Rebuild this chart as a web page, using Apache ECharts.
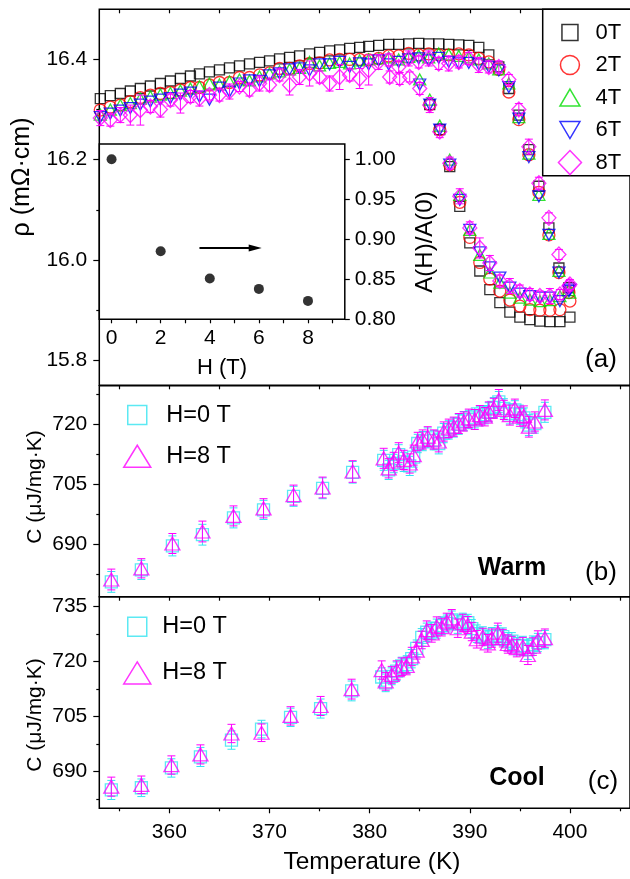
<!DOCTYPE html>
<html>
<head>
<meta charset="utf-8">
<script src="https://cdn.jsdelivr.net/npm/echarts@6.0.0/dist/echarts.min.js"></script>
<style>
html, body { margin: 0; padding: 0; background: #fff; }
#main { width: 630px; height: 879px; }
</style>
</head>
<body>
<div id="main"></div>
<script>
// ---- panel (a): resistivity, upper run and lower run for each field ----
var tUp = [353.1, 354.1, 355.1, 356.1, 357.1, 358.1, 359.1, 360.1, 361.1, 362.1,
           363.0, 364.0, 365.0, 366.0, 367.0, 368.0, 369.0, 370.0, 371.0, 372.0,
           373.0, 374.0, 375.0, 376.0, 377.0, 378.0, 379.0, 379.9, 380.9, 381.9,
           382.9, 383.9, 384.9, 385.9, 386.9, 387.9, 388.9, 389.9, 390.9, 391.9,
           392.9, 393.9, 394.9, 395.9, 396.9, 397.9, 398.9, 399.9];
var tDown = [382.0, 383.0, 384.0, 385.0, 386.0, 387.0, 388.0, 389.0, 390.0, 391.0,
             392.0, 393.0, 394.0, 395.0, 396.0, 397.0, 398.0, 399.0, 400.0];

var rho0Up = [16.322, 16.328, 16.332, 16.337, 16.342, 16.347, 16.352, 16.357, 16.362, 16.367,
              16.371, 16.375, 16.379, 16.383, 16.387, 16.391, 16.394, 16.397, 16.401, 16.404,
              16.407, 16.411, 16.414, 16.417, 16.419, 16.422, 16.424, 16.426, 16.428, 16.430,
              16.430, 16.431, 16.432, 16.431, 16.431, 16.430, 16.429, 16.428, 16.424, 16.409,
              16.385, 16.342, 16.289, 16.220, 16.147, 16.064, 15.984, 15.945];
var rho2Up = [16.299, 16.305, 16.309, 16.316, 16.324, 16.329, 16.332, 16.334, 16.339, 16.344,
              16.344, 16.349, 16.354, 16.354, 16.364, 16.364, 16.369, 16.373, 16.382, 16.382,
              16.387, 16.392, 16.393, 16.399, 16.400, 16.400, 16.400, 16.399, 16.402, 16.407,
              16.407, 16.412, 16.409, 16.411, 16.409, 16.409, 16.411, 16.409, 16.402, 16.395,
              16.380, 16.335, 16.280, 16.210, 16.135, 16.050, 15.975, 15.935];
var rho4Up = [16.290, 16.300, 16.309, 16.313, 16.322, 16.326, 16.330, 16.333, 16.338, 16.342,
              16.346, 16.352, 16.350, 16.356, 16.360, 16.358, 16.366, 16.372, 16.376, 16.380,
              16.383, 16.395, 16.388, 16.393, 16.395, 16.392, 16.398, 16.400, 16.402, 16.404,
              16.400, 16.405, 16.408, 16.404, 16.412, 16.410, 16.407, 16.404, 16.400, 16.392,
              16.380, 16.352, 16.285, 16.212, 16.130, 16.052, 15.978, 15.940];
var rho6Up = [16.285, 16.292, 16.298, 16.303, 16.310, 16.316, 16.320, 16.323, 16.330, 16.334,
              16.326, 16.320, 16.344, 16.336, 16.352, 16.358, 16.357, 16.368, 16.372, 16.380,
              16.382, 16.378, 16.390, 16.390, 16.395, 16.385, 16.392, 16.390, 16.398, 16.390,
              16.395, 16.400, 16.402, 16.398, 16.403, 16.395, 16.392, 16.393, 16.390, 16.385,
              16.378, 16.345, 16.282, 16.205, 16.127, 16.050, 15.975, 15.938];
var rho8Up = [16.283, 16.279, 16.289, 16.289, 16.299, 16.306, 16.300, 16.319, 16.313, 16.326,
              16.322, 16.329, 16.329, 16.336, 16.346, 16.339, 16.352, 16.349, 16.369, 16.349,
              16.365, 16.372, 16.365, 16.352, 16.365, 16.369, 16.362, 16.379, 16.395, 16.399,
              16.385, 16.402, 16.395, 16.402, 16.392, 16.392, 16.395, 16.402, 16.389, 16.385,
              16.385, 16.360, 16.300, 16.226, 16.153, 16.084, 16.011, 15.948];
var err8Up = [0.015, 0.012, 0.015, 0.020, 0.030, 0.012, 0.015, 0.012, 0.020, 0.012,
              0.015, 0.010, 0.012, 0.015, 0.010, 0.012, 0.015, 0.012, 0.012, 0.020,
              0.015, 0.025, 0.012, 0.015, 0.025, 0.012, 0.020, 0.030, 0.015, 0.012,
              0.012, 0.015, 0.012, 0.015, 0.012, 0.015, 0.012, 0.012, 0.015, 0.012,
              0.012, 0.010, 0.012, 0.015, 0.012, 0.010, 0.010, 0.010];

var rho0Down = [null, null, null, null, 16.310, 16.260, 16.186, 16.107, 16.034, 15.978,
                15.941, 15.915, 15.896, 15.886, 15.881, 15.878, 15.877, 15.877, 15.886];
var rho2Down = [null, null, null, null, 16.310, 16.260, 16.190, 16.115, 16.045, 15.995,
                15.962, 15.938, 15.920, 15.908, 15.901, 15.900, 15.900, 15.901, 15.918];
var rho4Down = [null, null, null, 16.360, 16.320, 16.268, 16.200, 16.130, 16.060, 16.010,
                15.975, 15.955, 15.935, 15.925, 15.921, 15.918, 15.920, 15.928, 15.935];
var rho6Down = [null, null, null, 16.350, 16.310, 16.260, 16.190, 16.120, 16.060, 16.015,
                15.985, 15.965, 15.945, 15.933, 15.928, 15.925, 15.925, 15.918, 15.941];
var rho8Down = [16.365, 16.362, 16.365, 16.342, 16.309, 16.256, 16.193, 16.127, 16.064, 16.024,
                15.994, 15.958, 15.948, 15.938, 15.931, 15.928, 15.928, 15.931, 15.951];
var err8Down = [0.012, 0.012, 0.010, 0.012, 0.015, 0.012, 0.012, 0.015, 0.012, 0.020,
                0.015, 0.012, 0.015, 0.012, 0.012, 0.010, 0.015, 0.010, 0.010];

// inset: A(H)/A(0) against H
var fieldH = [0, 2, 4, 6, 8];
var ratioA = [1.000, 0.885, 0.851, 0.838, 0.823];
var arrowFrom = [3.58, 0.889];
var arrowTo = [5.85, 0.889];

// ---- panel (b): heat capacity, warming ----
var tWarm = [354.2, 357.2, 360.3, 363.3, 366.4, 369.4, 372.4, 375.3, 378.3, 381.4,
             381.9, 382.4, 382.9, 383.4, 384.0, 384.4, 384.8, 385.3, 385.8, 386.4,
             386.9, 387.4, 387.9, 388.4, 388.9, 389.4, 389.9, 390.5, 391.0, 391.5,
             391.9, 392.4, 392.9, 393.4, 394.0, 394.5, 395.0, 395.4, 395.9, 396.5, 397.5];
var cWarm0 = [680.6, 683.6, 689.6, 692.4, 696.6, 698.6, 702.0, 704.0, 708.0, 711.0,
              708.6, 710.2, 712.4, 710.6, 709.6, 711.8, 715.2, 715.8, 716.6, 716.0,
              715.2, 717.8, 718.6, 719.2, 720.0, 720.8, 721.2, 721.6, 722.0, 722.4,
              723.0, 724.2, 725.6, 724.0, 722.6, 723.6, 722.4, 721.6, 719.8, 720.2, 723.0];
var cWarm8 = [681.2, 684.0, 690.2, 693.2, 697.1, 699.0, 702.3, 704.2, 708.2, 711.5,
              709.0, 710.7, 712.9, 711.1, 710.2, 712.3, 715.7, 716.2, 716.9, 716.2,
              715.7, 718.2, 719.0, 719.4, 720.2, 720.7, 721.5, 721.2, 722.3, 721.9,
              723.2, 724.0, 726.1, 723.6, 722.3, 724.0, 721.9, 722.1, 719.4, 720.7, 723.6];
var errWarm = [2.6, 2.4, 2.5, 2.6, 2.5, 2.4, 2.5, 2.6, 2.7, 2.5,
               2.4, 2.3, 2.5, 2.4, 2.4, 2.5, 2.3, 2.4, 2.5, 2.4,
               2.6, 2.4, 2.3, 2.4, 2.5, 2.4, 2.3, 2.5, 2.4, 2.3,
               2.4, 2.5, 2.6, 2.4, 2.5, 2.3, 2.4, 2.5, 2.6, 2.4, 2.5];

// ---- panel (c): heat capacity, cooling ----
var tCool = [354.2, 357.2, 360.2, 363.1, 366.2, 369.2, 372.1, 375.1, 378.2, 381.2,
             381.6, 382.2, 382.7, 383.2, 383.7, 384.2, 384.7, 385.2, 385.7, 386.2,
             386.7, 387.2, 387.7, 388.2, 388.8, 389.3, 389.8, 390.2, 390.7, 391.3,
             391.8, 392.2, 392.8, 393.3, 393.8, 394.2, 394.7, 395.3, 395.8, 396.3,
             396.8, 397.5];
var cCool0 = [685.0, 685.6, 691.0, 694.0, 698.6, 701.6, 704.8, 707.2, 712.0, 715.8,
              714.2, 716.0, 717.4, 718.8, 719.2, 720.8, 723.6, 726.6, 728.0, 728.4,
              729.0, 729.8, 730.4, 731.4, 730.2, 730.8, 730.6, 729.0, 727.6, 727.2,
              726.0, 726.8, 727.2, 726.8, 725.4, 725.6, 724.2, 724.4, 723.2, 724.6,
              725.2, 726.0];
var cCool8 = [685.9, 686.4, 691.8, 694.7, 700.4, 700.6, 705.2, 707.9, 712.5, 717.7,
              714.6, 716.4, 717.7, 718.6, 718.8, 721.4, 723.0, 725.9, 728.6, 727.7,
              729.6, 729.4, 730.9, 731.8, 729.1, 730.5, 730.0, 728.2, 726.1, 726.8,
              725.0, 726.4, 727.9, 726.4, 724.8, 724.6, 723.7, 724.1, 721.8, 724.1,
              725.9, 726.4];
var errCool = [2.6, 2.4, 2.5, 2.6, 2.5, 2.4, 2.5, 2.6, 2.7, 2.5,
               2.4, 2.3, 2.5, 2.4, 2.4, 2.5, 2.3, 2.4, 2.5, 2.4,
               2.6, 2.4, 2.3, 2.4, 2.5, 2.4, 2.3, 2.5, 2.4, 2.3,
               2.4, 2.5, 2.6, 2.4, 2.5, 2.3, 2.4, 2.5, 2.6, 2.4,
               2.5, 2.5];

var fontFam = "'Liberation Sans', Arial, sans-serif";
var cBlack = '#000000', cRed = '#ff0000', cGreen = '#00dd00', cBlue = '#0000ff',
    cMag = '#ff00ff', cCyan = '#33e3f0';

// symbols
var downTri = 'path://M0,0L10,0L5,8.66Z';
// legend icons (corner moveTo's keep the box so the shapes keep their own size)
var icSq = 'path://M0,0M25,25M4.5,4.5H20.5V20.5H4.5Z';
var icCi = 'path://M0,0M25,25M3,12.5A9.5,9.5,0,1,1,22,12.5A9.5,9.5,0,1,1,3,12.5Z';
var icTr = 'path://M0,0M25,25M12.5,4L22.5,21L2.5,21Z';
var icDt = 'path://M0,0M25,25M2.5,4H22.5L12.5,21Z';
var icDi = 'path://M0,0M25,25M12.5,0.5L24,12.5L12.5,24.5L1,12.5Z';
var icSqB = 'path://M0,0M28,28M4.5,4.5H23.5V23.5H4.5Z';
var icTrB = 'path://M0,0M28,28M14,3L27.5,25L0.5,25Z';

function pts(xs, ys) {
    var out = [];
    for (var i = 0; i < xs.length; i++) {
        if (ys[i] != null) out.push([xs[i], ys[i]]);
    }
    return out;
}

function bars(xs, ys, es) {
    var out = [];
    for (var i = 0; i < xs.length; i++) {
        if (ys[i] != null) out.push([xs[i], ys[i] - es[i], ys[i] + es[i]]);
    }
    return out;
}

function scat(name, data, xi, yi, symbol, size, color, z) {
    return {
        type: 'scatter', name: name, xAxisIndex: xi, yAxisIndex: yi,
        data: data, symbol: symbol, symbolSize: size, silent: true, z: z,
        itemStyle: { color: 'rgba(0,0,0,0)', borderColor: color, borderWidth: 1.3 }
    };
}

function errSeries(data, xi, yi, color, z) {
    return {
        type: 'custom', xAxisIndex: xi, yAxisIndex: yi, data: data, silent: true, z: z,
        encode: { x: 0, y: [1, 2] },
        renderItem: function (params, api) {
            var top = api.coord([api.value(0), api.value(2)]);
            var bot = api.coord([api.value(0), api.value(1)]);
            var w = 4;
            return {
                type: 'group',
                children: [
                    { type: 'line', shape: { x1: top[0], y1: top[1], x2: bot[0], y2: bot[1] }, style: { stroke: color, lineWidth: 1 } },
                    { type: 'line', shape: { x1: top[0] - w, y1: top[1], x2: top[0] + w, y2: top[1] }, style: { stroke: color, lineWidth: 1 } },
                    { type: 'line', shape: { x1: bot[0] - w, y1: bot[1], x2: bot[0] + w, y2: bot[1] }, style: { stroke: color, lineWidth: 1 } }
                ]
            };
        }
    };
}

function xAx(grid, pos, opts) {
    var a = {
        type: 'value', gridIndex: grid, position: pos, min: 353, max: 406,
        splitLine: { show: false },
        axisLine: { show: false, onZero: false },
        axisLabel: { show: false },
        axisTick: { show: true, inside: false, length: 4, lineStyle: { color: '#000', width: 1.2 },
                    customValues: [355, 360, 365, 370, 375, 380, 385, 390, 395, 400, 405] }
    };
    for (var k in opts) a[k] = opts[k];
    return a;
}

function yAx(grid, min, max, ticks, len, labels, fmt) {
    return {
        type: 'value', gridIndex: grid, position: 'left', min: min, max: max,
        splitLine: { show: false },
        axisLine: { show: false, onZero: false },
        axisTick: { show: true, inside: false, length: len, customValues: ticks, lineStyle: { color: '#000', width: 1.2 } },
        axisLabel: labels ? {
            show: true, customValues: labels, margin: 12,
            fontSize: 21, fontFamily: fontFam, color: '#000',
            formatter: fmt
        } : { show: false }
    };
}

function txt(s, x, y, size, rot, bold) {
    return {
        type: 'text', x: x, y: y, rotation: rot || 0, silent: true, z: 50,
        style: {
            text: s, fill: '#000',
            font: (bold ? 'bold ' : '') + size + 'px ' + fontFam,
            textAlign: 'center', textVerticalAlign: 'middle',
            align: 'center', verticalAlign: 'middle'
        }
    };
}

function hollow(color) {
    return { color: 'rgba(0,0,0,0)', borderColor: color, borderWidth: 1.5 };
}

var chart = echarts.init(document.getElementById('main'));

var option = {
    animation: false,
    backgroundColor: '#fff',
    grid: [
        { left: 99.3, top: 9.3, width: 533, height: 376, show: true, borderColor: '#000', borderWidth: 1.5 },
        { left: 99.3, top: 385.7, width: 533, height: 211, show: true, borderColor: '#000', borderWidth: 1.5 },
        { left: 99.3, top: 596.7, width: 533, height: 211.6, show: true, borderColor: '#000', borderWidth: 1.5 },
        { left: 99.3, top: 144, width: 245.5, height: 175.3, show: true, borderColor: '#000', borderWidth: 1.5, backgroundColor: '#fff' }
    ],
    xAxis: [
        xAx(0, 'bottom', {}),
        xAx(0, 'top', { axisTick: { show: true, inside: true, length: 4, lineStyle: { color: '#000', width: 1.2 },
                                     customValues: [355, 360, 365, 370, 375, 380, 385, 390, 395, 400, 405] } }),
        xAx(1, 'bottom', {}),
        xAx(2, 'bottom', {
            axisTick: { show: true, length: 5, lineStyle: { color: '#000', width: 1.2 }, customValues: [360, 370, 380, 390, 400] },
            axisLabel: { show: true, customValues: [360, 370, 380, 390, 400], margin: 13,
                         fontSize: 21, fontFamily: fontFam, color: '#000' }
        }),
        xAx(2, 'bottom', {
            axisTick: { show: true, length: 3, lineStyle: { color: '#000', width: 1.2 }, customValues: [355, 365, 375, 385, 395, 405] }
        }),
        {
            type: 'value', gridIndex: 3, position: 'bottom', min: -0.5, max: 9.5,
            splitLine: { show: false }, axisLine: { show: false, onZero: false },
            axisTick: { show: true, length: 4, lineStyle: { color: '#000', width: 1.2 },
                        customValues: [0, 1, 2, 3, 4, 5, 6, 7, 8, 9] },
            axisLabel: { show: true, customValues: [0, 2, 4, 6, 8], margin: 8,
                         fontSize: 21, fontFamily: fontFam, color: '#000' }
        }
    ],
    yAxis: [
        yAx(0, 15.75, 16.5, [15.8, 16.0, 16.2, 16.4], 6, [15.8, 16.0, 16.2, 16.4], function (v) { return v.toFixed(1); }),
        yAx(0, 15.75, 16.5, [15.9, 16.1, 16.3], 3, null),
        yAx(1, 676.9, 729.65, [690, 705, 720], 6, [690, 705, 720], function (v) { return v.toFixed(0); }),
        yAx(1, 676.9, 729.65, [682.5, 697.5, 712.5, 727.5], 3, null),
        yAx(2, 680, 737.7, [690, 705, 720, 735], 6, [690, 705, 720, 735], function (v) { return v.toFixed(0); }),
        yAx(2, 680, 737.7, [682.5, 697.5, 712.5, 727.5], 3, null),
        {
            type: 'value', gridIndex: 3, position: 'right', min: 0.8, max: 1.019,
            splitLine: { show: false }, axisLine: { show: false, onZero: false },
            axisTick: { show: true, length: 5, lineStyle: { color: '#000', width: 1.2 },
                        customValues: [0.80, 0.85, 0.90, 0.95, 1.00] },
            axisLabel: { show: true, customValues: [0.80, 0.85, 0.90, 0.95, 1.00], margin: 10,
                         fontSize: 21, fontFamily: fontFam, color: '#000',
                         formatter: function (v) { return v.toFixed(2); } }
        }
    ],
    legend: [
        {
            orient: 'vertical', left: 542.7, top: 9.3, padding: [10, 40, 0, 14],
            itemWidth: 25, itemHeight: 25, itemGap: 6, selectedMode: false,
            backgroundColor: '#fff', borderColor: '#000', borderWidth: 1.5,
            textStyle: { fontSize: 22, lineHeight: 25, fontFamily: fontFam, color: '#000', padding: [0, 0, 0, 8] },
            data: [
                { name: '0T', icon: icSq, itemStyle: hollow(cBlack) },
                { name: '2T', icon: icCi, itemStyle: hollow(cRed) },
                { name: '4T', icon: icTr, itemStyle: hollow(cGreen) },
                { name: '6T', icon: icDt, itemStyle: hollow(cBlue) },
                { name: '8T', icon: icDi, itemStyle: hollow(cMag) }
            ]
        },
        {
            orient: 'vertical', left: 122.5, top: 400.3, padding: 0,
            itemWidth: 28, itemHeight: 28, itemGap: 11.7, selectedMode: false,
            textStyle: { fontSize: 23.5, lineHeight: 28, fontFamily: fontFam, color: '#000', padding: [0, 0, 0, 10] },
            data: [
                { name: 'H=0 T', icon: icSqB, itemStyle: hollow(cCyan) },
                { name: 'H=8 T', icon: icTrB, itemStyle: hollow(cMag) }
            ]
        },
        {
            orient: 'vertical', left: 122.5, top: 612, padding: 0,
            itemWidth: 28, itemHeight: 28, itemGap: 16.7, selectedMode: false,
            textStyle: { fontSize: 23.5, lineHeight: 28, fontFamily: fontFam, color: '#000', padding: [0, 0, 0, 6] },
            data: [
                { name: 'H=0 T', icon: icSqB, itemStyle: hollow(cCyan) },
                { name: 'H=8 T', icon: icTrB, itemStyle: hollow(cMag) }
            ]
        }
    ],
    graphic: [
        txt('ρ (mΩ·cm)', 22, 177, 25, Math.PI / 2),
        txt('C (μJ/mg·K)', 35, 487, 21, Math.PI / 2),
        txt('C (μJ/mg·K)', 35, 715, 21, Math.PI / 2),
        txt('Temperature (K)', 372, 862, 24.5),
        txt('H (T)', 222, 368, 22),
        txt('A(H)/A(0)', 425, 242, 24, Math.PI / 2),
        txt('(a)', 601, 360, 26),
        txt('(b)', 601, 573, 26),
        txt('(c)', 603, 782, 26),
        txt('Warm', 512, 568, 25, 0, true),
        txt('Cool', 517, 778, 25, 0, true)
    ],
    series: [
        // panel (a)
        scat('0T', pts(tUp, rho0Up).concat(pts(tDown, rho0Down)), 0, 0, 'rect', 10, cBlack, 2),
        scat('2T', pts(tUp, rho2Up).concat(pts(tDown, rho2Down)), 0, 0, 'circle', 12, cRed, 3),
        scat('4T', pts(tUp, rho4Up).concat(pts(tDown, rho4Down)), 0, 0, 'triangle', [12, 11], cGreen, 4),
        scat('6T', pts(tUp, rho6Up).concat(pts(tDown, rho6Down)), 0, 0, downTri, [12, 11], cBlue, 5),
        errSeries(bars(tUp, rho8Up, err8Up).concat(bars(tDown, rho8Down, err8Down)), 0, 0, cMag, 6),
        scat('8T', pts(tUp, rho8Up).concat(pts(tDown, rho8Down)), 0, 0, 'diamond', [14, 15], cMag, 7),
        // inset
        {
            type: 'scatter', name: 'A(H)/A(0)', xAxisIndex: 5, yAxisIndex: 6,
            data: pts(fieldH, ratioA), symbol: 'circle', symbolSize: 10, silent: true, z: 10,
            itemStyle: { color: '#000' },
            markLine: {
                silent: true, symbol: ['none', 'triangle'], symbolSize: [7, 13],
                lineStyle: { color: '#000', width: 2, type: 'solid' },
                label: { show: false },
                data: [[{ coord: arrowFrom }, { coord: arrowTo }]]
            }
        },
        // panel (b)
        errSeries(bars(tWarm, cWarm0, errWarm), 2, 2, cCyan, 2),
        scat('H=0 T', pts(tWarm, cWarm0), 2, 2, 'rect', 12, cCyan, 3),
        errSeries(bars(tWarm, cWarm8, errWarm), 2, 2, cMag, 4),
        scat('H=8 T', pts(tWarm, cWarm8), 2, 2, 'triangle', [15, 13], cMag, 5),
        // panel (c)
        errSeries(bars(tCool, cCool0, errCool), 3, 4, cCyan, 2),
        scat('H=0 T', pts(tCool, cCool0), 3, 4, 'rect', 12, cCyan, 3),
        errSeries(bars(tCool, cCool8, errCool), 3, 4, cMag, 4),
        scat('H=8 T', pts(tCool, cCool8), 3, 4, 'triangle', [15, 13], cMag, 5)
    ]
};

chart.setOption(option);
</script>
</body>
</html>
